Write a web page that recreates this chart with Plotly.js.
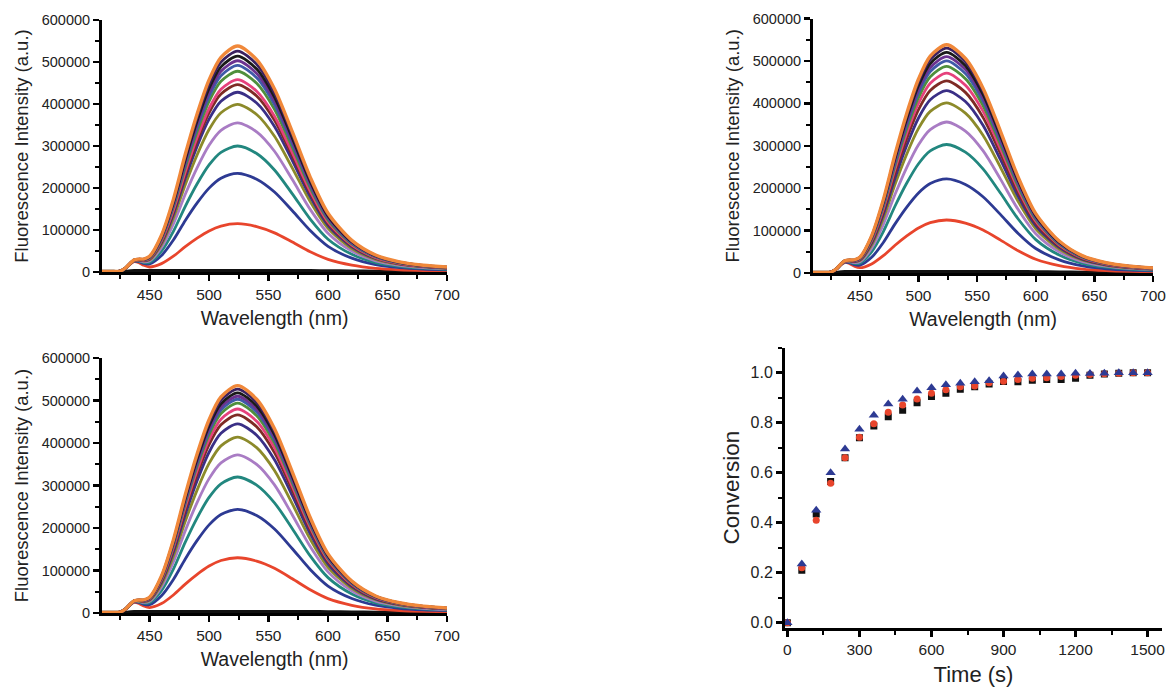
<!DOCTYPE html>
<html>
<head>
<meta charset="utf-8">
<script src="https://cdn.plot.ly/plotly-3.0.1.min.js"></script>
<style>
  html, body { margin: 0; padding: 0; background: #ffffff; }
  #chart { width: 1174px; height: 691px; }
</style>
</head>
<body>
<div id="chart"></div>
<script>
// ---------------- Data ----------------
// Wavelength sampling points (nm)
const wavelengths = [410, 420, 425, 430, 434, 437, 441, 445, 450, 460, 470, 480, 490, 500, 510, 524, 540, 555, 570, 585, 600, 620, 640, 660, 680, 700];
// Normalised emission profile (top curve divided by its peak)
const emissionProfile = [0, 0, 0, 0.002, 0.005, 0.01, 0.02, 0.035, 0.06, 0.16, 0.32, 0.52, 0.70, 0.85, 0.95, 1.0, 0.94, 0.81, 0.62, 0.42, 0.26, 0.14, 0.075, 0.045, 0.03, 0.022];
// Small shoulder near 437 nm common to all curves (a.u.)
const shoulderBump = [1500, 1500, 2000, 9000, 19000, 23500, 20000, 12000, 5000, 1500, 800, 400, 0, 0, 0, 0, 0, 0, 0, 0, 0, 0, 0, 0, 0, 0];
// t = 0 curve (near baseline)
const baselineCurve = [1500, 1500, 1500, 2000, 3000, 3500, 3500, 3500, 3500, 3500, 3500, 3500, 3500, 3500, 3500, 3500, 3500, 3500, 3500, 3500, 3000, 2500, 2000, 1500, 1500, 1500];

// Peak intensities of the successive spectra in each panel (a.u.)
const peaksTopLeft    = [115000, 235000, 300000, 355000, 399000, 428000, 446000, 458000, 478000, 492000, 503000, 514000, 526000, 538000];
const peaksTopRight   = [125000, 222000, 303000, 356000, 401000, 430000, 453000, 471000, 487000, 500000, 510000, 520000, 530000, 538000];
const peaksBottomLeft = [130000, 244000, 320000, 372000, 414000, 445000, 466000, 480000, 494000, 503000, 510000, 518000, 527000, 535000];

const curveColors = ['#e8452c', '#2d3a93', '#22877f', '#a97cc4', '#8c8a2a', '#3a2f86', '#7e2b25',
                     '#e6417c', '#4f8f3c', '#3f5aa8', '#6c3290', '#1a1a1a', '#3b2160', '#f0883a'];

// Conversion vs time
const times = [0, 60, 120, 180, 240, 300, 360, 420, 480, 540, 600, 660, 720, 780, 840, 900, 960, 1020, 1080, 1140, 1200, 1260, 1320, 1380, 1440, 1500];
const conversionSquares   = [0, 0.21, 0.435, 0.565, 0.66, 0.74, 0.787, 0.824, 0.85, 0.88, 0.905, 0.918, 0.934, 0.944, 0.955, 0.965, 0.964, 0.97, 0.973, 0.973, 0.978, 0.99, 0.995, 0.998, 1.0, 1.0];
const conversionCircles   = [0, 0.22, 0.41, 0.558, 0.66, 0.742, 0.796, 0.842, 0.871, 0.895, 0.918, 0.932, 0.944, 0.947, 0.96, 0.966, 0.973, 0.978, 0.98, 0.985, 0.99, 0.993, 0.996, 0.998, 1.0, 1.0];
const conversionTriangles = [0, 0.235, 0.45, 0.60, 0.695, 0.774, 0.83, 0.875, 0.894, 0.927, 0.94, 0.952, 0.958, 0.964, 0.968, 0.987, 0.991, 0.995, 0.995, 0.995, 0.998, 0.997, 0.998, 1.0, 1.0, 1.0];

// ---------------- Build traces ----------------
const FONT = 'Liberation Sans, Arial, Helvetica, sans-serif';
const traces = [];

function addSpectra(peaks, xa, ya) {
  traces.push({
    x: wavelengths, y: baselineCurve, xaxis: xa, yaxis: ya, type: 'scatter', mode: 'lines',
    line: { color: '#111111', width: 3, shape: 'spline', smoothing: 0.8 }, hoverinfo: 'skip'
  });
  peaks.forEach((p, k) => {
    const ys = wavelengths.map((w, i) => shoulderBump[i] + p * emissionProfile[i]);
    traces.push({
      x: wavelengths, y: ys, xaxis: xa, yaxis: ya, type: 'scatter', mode: 'lines',
      line: { color: curveColors[k], width: k === peaks.length - 1 ? 3.4 : 2.8, shape: 'spline', smoothing: 0.8 },
      hoverinfo: 'skip'
    });
  });
}
addSpectra(peaksTopLeft, 'x', 'y');
addSpectra(peaksTopRight, 'x2', 'y2');
addSpectra(peaksBottomLeft, 'x3', 'y3');

traces.push({ x: times, y: conversionSquares, xaxis: 'x4', yaxis: 'y4', type: 'scatter', mode: 'markers',
  marker: { symbol: 'square', size: 7, color: '#111111' }, hoverinfo: 'skip' });
traces.push({ x: times, y: conversionCircles, xaxis: 'x4', yaxis: 'y4', type: 'scatter', mode: 'markers',
  marker: { symbol: 'circle', size: 7, color: '#e8452c' }, hoverinfo: 'skip' });
traces.push({ x: times, y: conversionTriangles, xaxis: 'x4', yaxis: 'y4', type: 'scatter', mode: 'markers',
  marker: { symbol: 'triangle-up', size: 9, color: '#2d3a93' }, hoverinfo: 'skip' });

// ---------------- Layout ----------------
const W = 1174, H = 691;
const fx = px => px / W;
const fy = px => 1 - px / H;

function baseAxis(extra) {
  return Object.assign({
    showline: true, linewidth: 3, linecolor: '#000000', mirror: false,
    ticks: 'outside', ticklen: 6, tickwidth: 2.5, tickcolor: '#000000',
    showgrid: false, zeroline: false, automargin: false,
    tickfont: { family: FONT, size: 15.5, color: '#222222' }
  }, extra);
}
function specX(domain, anchor) {
  return baseAxis({
    domain: domain, anchor: anchor, range: [410, 700], tick0: 0, dtick: 50,
    minor: { ticks: 'outside', ticklen: 4, tickwidth: 2, tickcolor: '#000000', tick0: 0, dtick: 25, showgrid: false },
    title: { text: 'Wavelength (nm)', font: { family: FONT, size: 19.5, color: '#222222' }, standoff: 10 }
  });
}
function specY(domain, anchor) {
  return baseAxis({
    domain: domain, anchor: anchor, range: [0, 600000], tick0: 0, dtick: 100000, tickformat: 'd',
    tickfont: { family: FONT, size: 14.5, color: '#222222' },
    minor: { ticks: 'outside', ticklen: 4, tickwidth: 2, tickcolor: '#000000', tick0: 0, dtick: 50000, showgrid: false },
    title: { text: 'Fluorescence Intensity (a.u.)', font: { family: FONT, size: 18.5, color: '#222222' }, standoff: 9 }
  });
}

const layout = {
  width: W, height: H,
  margin: { l: 0, r: 0, t: 0, b: 0 },
  paper_bgcolor: '#ffffff', plot_bgcolor: '#ffffff',
  showlegend: false,
  font: { family: FONT, color: '#222222' },
  xaxis:  specX([fx(102), fx(447)], 'y'),
  yaxis:  specY([fy(272), fy(20)], 'x'),
  xaxis2: specX([fx(813), fx(1153)], 'y2'),
  yaxis2: specY([fy(273), fy(18.5)], 'x2'),
  xaxis3: specX([fx(102), fx(447)], 'y3'),
  yaxis3: specY([fy(613), fy(358)], 'x3'),
  xaxis4: baseAxis({
    domain: [fx(785), fx(1162)], anchor: 'y4', range: [-10, 1560], tick0: 0, dtick: 300,
    minor: { ticks: 'outside', ticklen: 4, tickwidth: 2, tickcolor: '#000000', tick0: 0, dtick: 150, showgrid: false },
    title: { text: 'Time (s)', font: { family: FONT, size: 22, color: '#222222' }, standoff: 10 }
  }),
  yaxis4: baseAxis({
    domain: [fy(627.7), fy(347.7)], anchor: 'x4', range: [-0.02, 1.1], tick0: 0, dtick: 0.2, tickformat: '.1f',
    tickfont: { family: FONT, size: 16, color: '#222222' },
    minor: { ticks: 'outside', ticklen: 4, tickwidth: 2, tickcolor: '#000000', tick0: 0, dtick: 0.1, showgrid: false },
    title: { text: 'Conversion', font: { family: FONT, size: 22.5, color: '#222222' }, standoff: 5 }
  })
};

Plotly.newPlot('chart', traces, layout, { staticPlot: true, displayModeBar: false });
</script>
</body>
</html>
